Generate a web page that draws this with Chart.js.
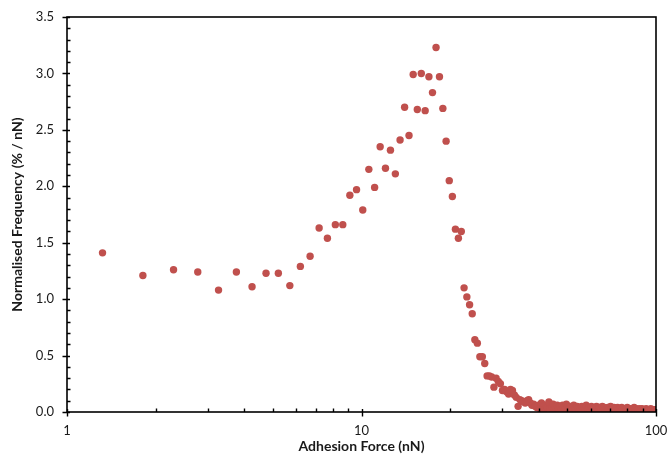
<!DOCTYPE html>
<html>
<head>
<meta charset="utf-8">
<script src="https://cdn.jsdelivr.net/npm/chart.js@4"></script>
<style>
  html, body { margin: 0; padding: 0; background: #fff; }
  #wrap { width: 667px; height: 462px; }
</style>
</head>
<body>
<div id="wrap"><canvas id="adhesionChart" width="667" height="462"></canvas></div>
<script>
// Adhesion force bins (nN)
const force = [
  1.32, 1.81, 2.30, 2.78, 3.27, 3.76, 4.25, 4.74, 5.22, 5.71,
  6.20, 6.69, 7.18, 7.66, 8.15, 8.64, 9.13, 9.62, 10.10, 10.59,
  11.08, 11.57, 12.06, 12.54, 13.03, 13.52, 14.01, 14.50, 14.98, 15.47,
  15.96, 16.45, 16.94, 17.42, 17.91, 18.40, 18.89, 19.38, 19.86, 20.35,
  20.84, 21.33, 21.82, 22.30, 22.79, 23.28, 23.77, 24.26, 24.74, 25.23,
  25.72, 26.21, 26.70, 27.18, 27.67, 28.16, 28.65, 29.14, 29.62, 30.11,
  30.60, 31.09, 31.58, 32.06, 32.55, 33.04, 33.53, 34.02, 34.50, 34.99,
  35.48, 35.97, 36.46, 36.94, 37.43, 37.92, 38.41, 38.90, 39.38, 39.87,
  40.36, 40.85, 41.34, 41.82, 42.31, 42.80, 43.29, 43.78, 44.26, 44.75,
  45.24, 45.73, 46.22, 46.70, 47.19, 47.68, 48.17, 48.66, 49.14, 49.63,
  50.12, 50.61, 51.10, 51.58, 52.07, 52.56, 53.05, 53.54, 54.02, 54.51,
  55.00, 55.49, 55.98, 56.46, 56.95, 57.44, 57.93, 58.42, 58.90, 59.39,
  59.88, 60.37, 60.86, 61.34, 61.83, 62.32, 62.81, 63.30, 63.78, 64.27,
  64.76, 65.25, 65.74, 66.22, 66.71, 67.20, 67.69, 68.18, 68.66, 69.15,
  69.64, 70.13, 70.62, 71.10, 71.59, 72.08, 72.57, 73.06, 73.54, 74.03,
  74.52, 75.01, 75.50, 75.98, 76.47, 76.96, 77.45, 77.94, 78.42, 78.91,
  79.40, 79.89, 80.38, 80.86, 81.35, 81.84, 82.33, 82.82, 83.30, 83.79,
  84.28, 84.77, 85.26, 85.74, 86.23, 86.72, 87.21, 87.70, 88.18, 88.67,
  89.16, 89.65, 90.14, 90.62, 91.11, 91.60, 92.09, 92.58, 93.06, 93.55,
  94.04, 94.53, 95.02, 95.50, 95.99, 96.48, 96.97, 97.46, 97.94, 98.43,
  98.92, 99.41, 99.90
];

// Normalised frequency (% / nN) for each bin
const frequency = [
  1.41, 1.21, 1.26, 1.24, 1.08, 1.24, 1.11, 1.23, 1.23, 1.12,
  1.29, 1.38, 1.63, 1.54, 1.66, 1.66, 1.92, 1.97, 1.79, 2.15,
  1.99, 2.35, 2.16, 2.32, 2.11, 2.41, 2.70, 2.45, 2.99, 2.68,
  3.00, 2.67, 2.97, 2.83, 3.23, 2.97, 2.69, 2.40, 2.05, 1.91,
  1.62, 1.54, 1.60, 1.10, 1.02, 0.95, 0.87, 0.64, 0.61, 0.49,
  0.49, 0.43, 0.32, 0.32, 0.31, 0.22, 0.30, 0.27, 0.25, 0.19,
  0.20, 0.18, 0.16, 0.20, 0.19, 0.15, 0.13, 0.05, 0.11, 0.10,
  0.09, 0.08, 0.10, 0.11, 0.08, 0.06, 0.07, 0.05, 0.04, 0.06,
  0.03, 0.08, 0.05, 0.02, 0.06, 0.04, 0.09, 0.03, 0.05, 0.07,
  0.02, 0.04, 0.06, 0.03, 0.05, 0.02, 0.06, 0.04, 0.03, 0.07,
  0.05, 0.03, 0.05, 0.02, 0.04, 0.06, 0.03, 0.02, 0.05, 0.04,
  0.01, 0.03, 0.05, 0.02, 0.04, 0.03, 0.06, 0.02, 0.03, 0.04,
  0.01, 0.05, 0.03, 0.02, 0.04, 0.03, 0.05, 0.02, 0.01, 0.04,
  0.03, 0.02, 0.05, 0.03, 0.04, 0.02, 0.01, 0.03, 0.04, 0.02,
  0.03, 0.05, 0.02, 0.03, 0.01, 0.04, 0.02, 0.03, 0.02, 0.04,
  0.01, 0.02, 0.03, 0.01, 0.04, 0.02, 0.03, 0.02, 0.01, 0.03,
  0.02, 0.04, 0.01, 0.02, 0.03, 0.02, 0.01, 0.03, 0.02, 0.02,
  0.04, 0.01, 0.02, 0.03, 0.01, 0.02, 0.02, 0.03, 0.01, 0.02,
  0.01, 0.03, 0.02, 0.01, 0.02, 0.02, 0.01, 0.03, 0.01, 0.02,
  0.01, 0.02, 0.02, 0.01, 0.03, 0.01, 0.02, 0.01, 0.02, 0.01,
  0.02, 0.01, 0.02
];

// Axis ticks
const xMajorTicks = [1, 10, 100];
const xMinorTicks = [2, 3, 4, 5, 6, 7, 8, 9, 20, 30, 40, 50, 60, 70, 80, 90];
const yMajorTicks = [0, 0.5, 1.0, 1.5, 2.0, 2.5, 3.0, 3.5];

const dotColor = '#C0504D';
const textColor = '#1a1a1a';
const fontFamily = 'Lato, "Open Sans", sans-serif';

// Box around plot area + excel-like tick marks
const axisFrame = {
  id: 'axisFrame',
  afterDraw(chart) {
    const ctx = chart.ctx;
    const a = chart.chartArea;
    const xs = chart.scales.x;
    const ys = chart.scales.y;
    ctx.save();
    ctx.strokeStyle = '#000';
    ctx.lineWidth = 1.6;
    ctx.strokeRect(a.left, a.top, a.right - a.left, a.bottom - a.top);

    ctx.lineWidth = 1.4;
    ctx.beginPath();
    // y: major ticks cross the axis, minor ticks point inside
    for (let k = 0; k <= 35; k++) {
      const py = Math.round(ys.getPixelForValue(k / 10)) + 0.5;
      if (k % 5 === 0) {
        ctx.moveTo(a.left - 4.5, py);
        ctx.lineTo(a.left + 3, py);
      } else {
        ctx.moveTo(a.left, py);
        ctx.lineTo(a.left + 3.5, py);
      }
    }
    // x: major ticks go down, minor go up
    xMajorTicks.forEach(v => {
      const px = Math.round(xs.getPixelForValue(v)) + 0.5;
      ctx.moveTo(px, a.bottom - 3);
      ctx.lineTo(px, a.bottom + 4.5);
    });
    xMinorTicks.forEach(v => {
      const px = Math.round(xs.getPixelForValue(v)) + 0.5;
      ctx.moveTo(px, a.bottom);
      ctx.lineTo(px, a.bottom - 3.5);
    });
    ctx.stroke();
    ctx.restore();
  }
};

// keep label overhang from shrinking the plot area
function noOverhang(scale) {
  scale.paddingLeft = 0;
  scale.paddingRight = 0;
  scale.paddingTop = 0;
  scale.paddingBottom = 0;
}

const points = force.map((f, i) => ({ x: f, y: frequency[i] }));

new Chart(document.getElementById('adhesionChart'), {
  type: 'scatter',
  data: {
    datasets: [{
      data: points,
      backgroundColor: dotColor,
      borderColor: dotColor,
      borderWidth: 0,
      pointRadius: 3.7,
    }],
  },
  options: {
    responsive: false,
    animation: false,
    devicePixelRatio: 1,
    layout: { padding: { left: 0, top: 17, right: 11, bottom: 0 } },
    plugins: {
      legend: { display: false },
      tooltip: { enabled: false },
    },
    scales: {
      x: {
        type: 'logarithmic',
        min: 1,
        max: 100,
        afterBuildTicks: scale => { scale.ticks = xMajorTicks.map(v => ({ value: v })); },
        afterFit: scale => { scale.height = 50; noOverhang(scale); },
        grid: { display: false, drawTicks: false },
        border: { display: false },
        ticks: {
          autoSkip: false,
          maxRotation: 0,
          padding: 11,
          color: textColor,
          font: { family: fontFamily, size: 13 },
          callback: v => String(v),
        },
        title: {
          display: true,
          text: 'Adhesion Force (nN)',
          color: textColor,
          font: { family: fontFamily, size: 14, weight: 'bold' },
          padding: { top: 0, bottom: 7 },
        },
      },
      y: {
        min: 0,
        max: 3.5,
        afterBuildTicks: scale => { scale.ticks = yMajorTicks.map(v => ({ value: v })); },
        afterFit: scale => { scale.width = 67; noOverhang(scale); },
        grid: { display: false, drawTicks: false },
        border: { display: false },
        ticks: {
          padding: 13,
          color: textColor,
          font: { family: fontFamily, size: 13 },
          callback: v => Number(v).toFixed(1),
        },
        title: {
          display: true,
          text: 'Normalised Frequency (% / nN)',
          color: textColor,
          font: { family: fontFamily, size: 14, weight: 'bold' },
          padding: { top: 9, bottom: 0 },
        },
      },
    },
  },
  plugins: [axisFrame],
});
</script>
</body>
</html>
